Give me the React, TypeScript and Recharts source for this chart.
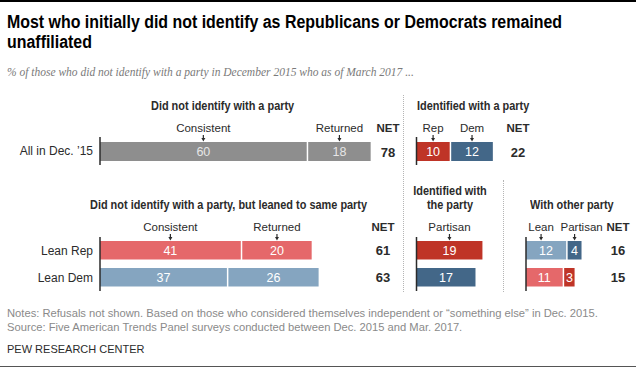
import React from 'react';
import { Bar, BarChart, XAxis, YAxis } from 'recharts';

const W = 636;
const H = 371;
// one percentage point in pixels, shared by every panel
const PX = 3.47;

const allRows = ['All in Dec. \u201915'];
const allConsistent = [60];
const allReturned = [18];
const allNet = [78];
const partyRep = [10];
const partyDem = [12];
const partyNet = [22];

const leanRows = ['Lean Rep', 'Lean Dem'];
const leanConsistent = [41, 37];
const leanReturned = [20, 26];
const leanNet = [61, 63];
const samePartisan = [19, 17];
const otherLean = [12, 11];
const otherPartisan = [4, 3];
const otherNet = [16, 15];

const GRAY = '#8e8e8e';
const DRED = '#bf3427';
const DBLUE = '#436788';
const LRED = '#e5686a';
const LBLUE = '#85a5c0';
const INK = '#2b2b2b';

const SANS = '"Liberation Sans", Arial, sans-serif';

const topData = allRows.map((name, i) => ({
  name,
  consistent: allConsistent[i],
  returned: allReturned[i],
  rep: partyRep[i],
  dem: partyDem[i],
}));

const leanData = leanRows.map((name, i) => ({
  name,
  consistent: leanConsistent[i],
  returned: leanReturned[i],
  partisan: samePartisan[i],
  otherLean: otherLean[i],
  otherPartisan: otherPartisan[i],
}));

type SegOpts = {
  dataKey: string;
  fills: string[];
  gap?: boolean;
  header?: string;
  headerDx?: number;
  arrowDx?: number;
  textColor?: string;
  net?: { values: number[]; x: number };
};

const segment = (o: SegOpts) => (p: any) => {
  const { x, y, width, height, index, payload } = p;
  const w = Math.max((o.gap ? width - 1.5 : width), 0);
  const cx = x + w / 2;
  const cy = y + height / 2;
  const ax = cx + (o.arrowDx ?? 0);
  return (
    <g>
      <rect x={x} y={y} width={w} height={height} fill={o.fills[index % o.fills.length]} />
      <text x={cx} y={cy + 4.5} textAnchor="middle" fontSize={12.5} fontFamily={SANS} fill={o.textColor ?? '#fff'}>
        {payload[o.dataKey]}
      </text>
      {o.header && index === 0 && (
        <g>
          <text x={cx + (o.headerDx ?? 0)} y={y - 10} textAnchor="middle" fontSize={11.5} fontFamily={SANS} fill={INK}>
            {o.header}
          </text>
          <line x1={ax} x2={ax} y1={y - 7} y2={y - 3} stroke={INK} strokeWidth={1.2} />
          <path d={`M${ax - 2},${y - 4}L${ax + 2},${y - 4}L${ax},${y - 0.5}Z`} fill={INK} />
        </g>
      )}
      {o.net && (
        <g>
          {index === 0 && (
            <text x={o.net.x} y={y - 10} textAnchor="middle" fontSize={11.5} fontWeight={700} fontFamily={SANS} fill={INK}>
              NET
            </text>
          )}
          <text x={o.net.x} y={cy + 5} textAnchor="middle" fontSize={13} fontWeight={700} fontFamily={SANS} fill={INK}>
            {o.net.values[index]}
          </text>
        </g>
      )}
    </g>
  );
};

const Panel: React.FC<{
  data: any[];
  left: number;
  top: number;
  height: number;
  maxVal: number;
  barSize: number;
  ticks?: boolean;
  children: React.ReactNode;
}> = ({ data, left, top, height, maxVal, barSize, ticks, children }) => {
  const plotW = maxVal * PX;
  return (
    <div style={{ position: 'absolute', left: 0, top: 0 }}>
      <BarChart
        width={W}
        height={H}
        data={data}
        layout="vertical"
        margin={{ top, left: 0, right: W - left - plotW, bottom: H - top - height }}
        barSize={barSize}
      >
        <XAxis type="number" domain={[0, maxVal]} hide />
        <YAxis
          type="category"
          dataKey="name"
          width={left}
          tickLine={false}
          tickSize={0}
          tickMargin={7}
          axisLine={{ stroke: INK, strokeWidth: 1.5 }}
          tick={ticks ? { fontSize: 12, fill: INK, fontFamily: SANS } : false}
        />
        {children}
      </BarChart>
    </div>
  );
};

const Txt: React.FC<{ style: React.CSSProperties; children: React.ReactNode }> = ({ style, children }) => (
  <div style={{ position: 'absolute', whiteSpace: 'nowrap', ...style }}>{children}</div>
);

// condensed bold headings, squeezed horizontally
const head: React.CSSProperties = {
  fontWeight: 700,
  fontSize: 13,
  lineHeight: '14px',
  color: INK,
  transform: 'scaleX(0.84)',
  transformOrigin: 'left top',
};

export default function App() {
  return (
    <div style={{ position: 'relative', width: W, height: H, background: '#fff', overflow: 'hidden', fontFamily: SANS }}>
      <style>{'body{margin:0}'}</style>
      <div style={{ position: 'absolute', left: 0, top: 0, width: W, height: 2, background: '#000' }} />
      <Txt style={{ left: 7, top: 12, fontWeight: 700, fontSize: 18, lineHeight: '20px', color: '#000', transform: 'scaleX(0.885)', transformOrigin: 'left top' }}>
        Most who initially did not identify as Republicans or Democrats remained
        <br />
        unaffiliated
      </Txt>
      <Txt style={{ left: 7, top: 66, fontFamily: '"Liberation Serif", "DejaVu Serif", serif', fontStyle: 'italic', fontSize: 11.5, color: '#7a7a7a' }}>
        % of those who did not identify with a party in December 2015 who as of March 2017 ...
      </Txt>

      <Txt style={{ ...head, left: 151, top: 99 }}>Did not identify with a party</Txt>
      <Txt style={{ ...head, left: 417, top: 99 }}>Identified with a party</Txt>
      <Txt style={{ ...head, left: 90, top: 198 }}>Did not identify with a party, but leaned to same party</Txt>
      <Txt style={{ ...head, left: 400, top: 184, width: 100, textAlign: 'center', transformOrigin: 'center top' }}>
        Identified with
        <br />
        the party
      </Txt>
      <Txt style={{ ...head, left: 530, top: 198 }}>With other party</Txt>

      <div style={{ position: 'absolute', left: 403, top: 95, height: 197, borderLeft: '1px dotted #b5b5b5' }} />
      <div style={{ position: 'absolute', left: 503, top: 180, height: 112, borderLeft: '1px dotted #b5b5b5' }} />

      <Panel data={topData} left={100} top={137} height={28} maxVal={80} barSize={19} ticks>
        <Bar dataKey="consistent" stackId="a" isAnimationActive={false}
          shape={segment({ dataKey: 'consistent', fills: [GRAY], gap: true, header: 'Consistent', textColor: '#e6e6e6' })} />
        <Bar dataKey="returned" stackId="a" isAnimationActive={false}
          shape={segment({ dataKey: 'returned', fills: [GRAY], header: 'Returned', textColor: '#e6e6e6', net: { values: allNet, x: 388 } })} />
      </Panel>

      <Panel data={topData} left={416.5} top={137} height={28} maxVal={30} barSize={19}>
        <Bar dataKey="rep" stackId="a" isAnimationActive={false}
          shape={segment({ dataKey: 'rep', fills: [DRED], gap: true, header: 'Rep' })} />
        <Bar dataKey="dem" stackId="a" isAnimationActive={false}
          shape={segment({ dataKey: 'dem', fills: [DBLUE], header: 'Dem', net: { values: partyNet, x: 518 } })} />
      </Panel>

      <Panel data={leanData} left={100} top={237} height={54} maxVal={80} barSize={18.5} ticks>
        <Bar dataKey="consistent" stackId="a" isAnimationActive={false}
          shape={segment({ dataKey: 'consistent', fills: [LRED, LBLUE], gap: true, header: 'Consistent' })} />
        <Bar dataKey="returned" stackId="a" isAnimationActive={false}
          shape={segment({ dataKey: 'returned', fills: [LRED, LBLUE], header: 'Returned', net: { values: leanNet, x: 383 } })} />
      </Panel>

      <Panel data={leanData} left={416.5} top={237} height={54} maxVal={25} barSize={18.5}>
        <Bar dataKey="partisan" stackId="a" isAnimationActive={false}
          shape={segment({ dataKey: 'partisan', fills: [DRED, DBLUE], header: 'Partisan' })} />
      </Panel>

      <Panel data={leanData} left={526} top={237} height={54} maxVal={20} barSize={18.5}>
        <Bar dataKey="otherLean" stackId="a" isAnimationActive={false}
          shape={segment({ dataKey: 'otherLean', fills: [LBLUE, LRED], gap: true, header: 'Lean', headerDx: -5, arrowDx: -5 })} />
        <Bar dataKey="otherPartisan" stackId="a" isAnimationActive={false}
          shape={segment({ dataKey: 'otherPartisan', fills: [DBLUE, DRED], header: 'Partisan', headerDx: 7, net: { values: otherNet, x: 618 } })} />
      </Panel>

      <Txt style={{ left: 7, top: 306, fontSize: 11.2, lineHeight: '14px', color: '#8a8a8a' }}>
        Notes: Refusals not shown. Based on those who considered themselves independent or {'\u201c'}something else{'\u201d'} in Dec. 2015.
        <br />
        Source: Five American Trends Panel surveys conducted between Dec. 2015 and Mar. 2017.
      </Txt>
      <Txt style={{ left: 7, top: 342, fontSize: 11, lineHeight: '14px', color: INK }}>PEW RESEARCH CENTER</Txt>
      <div style={{ position: 'absolute', left: 0, top: 366, width: W, height: 1, background: '#555' }} />
    </div>
  );
}
